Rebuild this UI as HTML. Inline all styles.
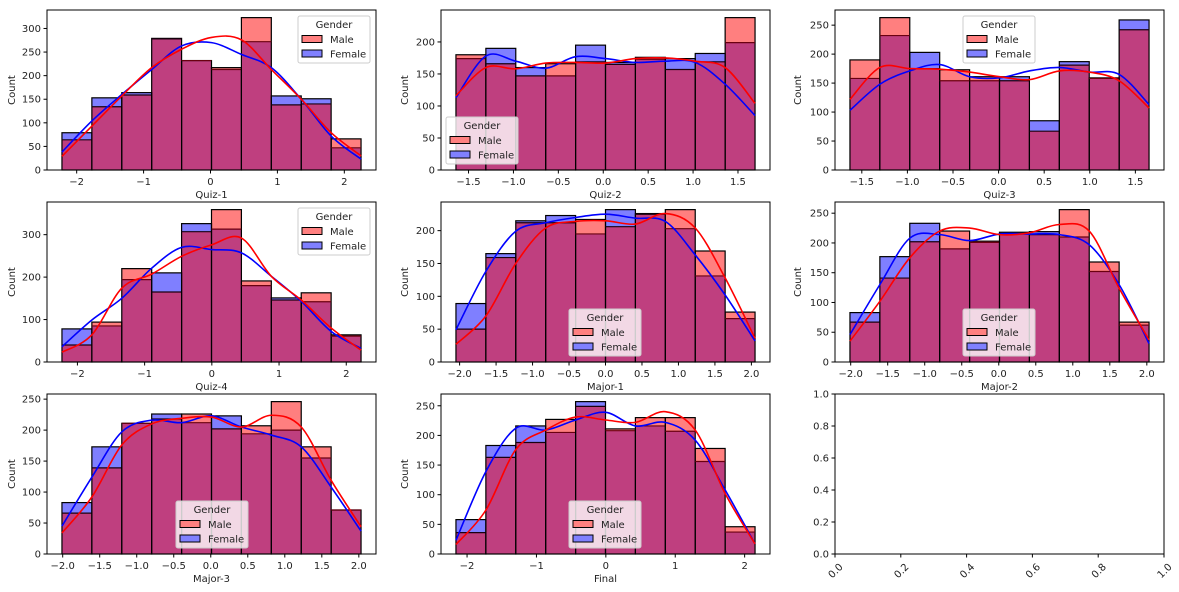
<!DOCTYPE html>
<html><head><meta charset="utf-8">
<style>
html,body{margin:0;padding:0;background:#fff;}
svg{display:block;font-family:"DejaVu Sans","Liberation Sans",sans-serif;}
</style></head>
<body>
<svg id="fig" width="1179" height="592" viewBox="0 0 1179 592" xmlns="http://www.w3.org/2000/svg"></svg>
<script>
// ---- data (counts per bin, 10 bins) ----
const q1Male=[64,134,159,278,232,217,323,138,140,66];
const q1Female=[79,153,164,279,232,213,272,157,151,47];
const q1KdeMale=[29,93,157,217,256,281,276,213,150,79,30];
const q1KdeFemale=[38,104,160,213,263,270,245,217,150,72,23];

const q2Male=[180,166,147,166,169,165,176,157,169,238];
const q2Female=[174,190,160,147,195,168,173,174,182,199];
const q2KdeMale=[116,160,158,167,168,167,174,175,170,160,104];
const q2KdeFemale=[113,178,170,159,177,174,168,170,168,134,85];

const q3Male=[190,263,175,173,161,154,67,181,159,242];
const q3Female=[158,232,203,154,154,161,85,187,158,259];
const q3KdeMale=[122,177,175,174,169,161,156,171,169,154,107];
const q3KdeFemale=[103,148,171,182,161,159,171,177,169,165,113];

const q4Male=[40,94,220,165,307,359,191,146,163,64];
const q4Female=[78,85,194,210,326,313,180,151,142,61];
const q4KdeMale=[23,64,174,207,249,276,292,202,146,80,28];
const q4KdeFemale=[36,99,150,221,270,265,257,202,143,72,32];

const m1Male=[50,159,212,212,217,206,225,232,169,76];
const m1Female=[89,165,215,223,195,232,226,203,131,66];
const m1KdeMale=[27,70,150,204,214,215,210,226,204,128,36];
const m1KdeFemale=[49,138,199,212,220,225,219,214,163,102,32];

const m2Male=[67,141,202,220,203,216,214,256,168,67];
const m2Female=[83,177,233,190,201,218,219,210,152,62];
const m2KdeMale=[35,102,175,220,225,214,217,231,220,124,37];
const m2KdeFemale=[46,130,208,214,204,215,215,214,197,130,31];

const m3Male=[66,139,211,218,226,202,207,246,173,71];
const m3Female=[83,173,211,226,212,223,194,200,155,71];
const m3KdeMale=[34,92,176,210,219,221,205,224,205,119,44];
const m3KdeFemale=[45,124,197,216,212,223,205,192,173,108,37];

const finMale=[36,163,188,227,249,211,230,230,178,46];
const finFemale=[58,183,216,205,257,208,216,207,156,37];
const finKdeMale=[16,74,176,209,231,226,222,240,209,102,17];
const finKdeFemale=[23,139,212,209,226,239,216,222,192,108,17];

// data range (bin edges)
const q1Range=[-2.22,2.25], q2Range=[-1.64,1.69], q3Range=[-1.63,1.65], q4Range=[-2.23,2.22];
const m1Range=[-2.05,2.05], m2Range=[-2.01,2.03], m3Range=[-2.01,2.03], finRange=[-2.16,2.15];

// tick values & labels
const intTicks=[-2,-1,0,1,2];
const intTickLabels=["\u22122","\u22121","0","1","2"];
const halfTicks=[-1.5,-1.0,-0.5,0,0.5,1.0,1.5];
const halfTickLabels=["\u22121.5","\u22121.0","\u22120.5","0.0","0.5","1.0","1.5"];
const majTicks=[-2,-1.5,-1,-0.5,0,0.5,1,1.5,2];
const majTickLabels=["\u22122.0","\u22121.5","\u22121.0","\u22120.5","0.0","0.5","1.0","1.5","2.0"];
const emptyTicks=[0,0.2,0.4,0.6,0.8,1.0];
const emptyTickLabels=["0.0","0.2","0.4","0.6","0.8","1.0"];

const NS="http://www.w3.org/2000/svg";
const svg=document.getElementById('fig');
function mk(tag,attrs,parent){const e=document.createElementNS(NS,tag);for(const k in attrs)e.setAttribute(k,attrs[k]);(parent||svg).appendChild(e);return e;}

const colX=[47,441,835], rowY=[10,202,394], W=329, H=160;

const panels=[
 {id:'quiz-1',label:'Quiz-1',col:0,row:0,male:q1Male,female:q1Female,km:q1KdeMale,kf:q1KdeFemale,range:q1Range,ticks:intTicks,tl:intTickLabels,ystep:50,leg:[298,16]},
 {id:'quiz-2',label:'Quiz-2',col:1,row:0,male:q2Male,female:q2Female,km:q2KdeMale,kf:q2KdeFemale,range:q2Range,ticks:halfTicks,tl:halfTickLabels,ystep:50,leg:[446,117]},
 {id:'quiz-3',label:'Quiz-3',col:2,row:0,male:q3Male,female:q3Female,km:q3KdeMale,kf:q3KdeFemale,range:q3Range,ticks:halfTicks,tl:halfTickLabels,ystep:50,leg:[963,16]},
 {id:'quiz-4',label:'Quiz-4',col:0,row:1,male:q4Male,female:q4Female,km:q4KdeMale,kf:q4KdeFemale,range:q4Range,ticks:intTicks,tl:intTickLabels,ystep:100,leg:[298,208]},
 {id:'major-1',label:'Major-1',col:1,row:1,male:m1Male,female:m1Female,km:m1KdeMale,kf:m1KdeFemale,range:m1Range,ticks:majTicks,tl:majTickLabels,ystep:50,leg:[569,309]},
 {id:'major-2',label:'Major-2',col:2,row:1,male:m2Male,female:m2Female,km:m2KdeMale,kf:m2KdeFemale,range:m2Range,ticks:majTicks,tl:majTickLabels,ystep:50,leg:[963,309]},
 {id:'major-3',label:'Major-3',col:0,row:2,male:m3Male,female:m3Female,km:m3KdeMale,kf:m3KdeFemale,range:m3Range,ticks:majTicks,tl:majTickLabels,ystep:50,leg:[176,501]},
 {id:'final',label:'Final',col:1,row:2,male:finMale,female:finFemale,km:finKdeMale,kf:finKdeFemale,range:finRange,ticks:intTicks,tl:intTickLabels,ystep:50,leg:[569,501]}
];

function splinePath(pts){
  let d='M'+pts[0][0].toFixed(2)+','+pts[0][1].toFixed(2);
  for(let i=0;i<pts.length-1;i++){
    const p0=pts[i-1]||pts[i],p1=pts[i],p2=pts[i+1],p3=pts[i+2]||pts[i+1];
    const c1=[p1[0]+(p2[0]-p0[0])/6,p1[1]+(p2[1]-p0[1])/6];
    const c2=[p2[0]-(p3[0]-p1[0])/6,p2[1]-(p3[1]-p1[1])/6];
    d+=' C'+c1[0].toFixed(2)+','+c1[1].toFixed(2)+' '+c2[0].toFixed(2)+','+c2[1].toFixed(2)+' '+p2[0].toFixed(2)+','+p2[1].toFixed(2);
  }
  return d;
}

panels.forEach(p=>{
  const x0=colX[p.col], y0=rowY[p.row];
  const g=mk('g',{});
  
  
  const lo=p.range[0], hi=p.range[1], span=hi-lo;
  const xmin=lo-0.05*span, xmax=hi+0.05*span;
  const ymax=1.05*Math.max(...p.male,...p.female,...p.km,...p.kf);
  const sx=v=>x0+(v-xmin)/(xmax-xmin)*W;
  const sy=v=>y0+H-v/ymax*H;
  const bw=span/10;
  // fills
  const bars=mk('g',{},g);
  
  
  p.female.forEach((v,i)=>{
    const r=mk('rect',{x:sx(lo+i*bw),y:sy(v),width:sx(lo+(i+1)*bw)-sx(lo+i*bw),height:sy(0)-sy(v),fill:'#0000ff','fill-opacity':0.5},bars);
    
    
  });
  p.male.forEach((v,i)=>{
    const r=mk('rect',{x:sx(lo+i*bw),y:sy(v),width:sx(lo+(i+1)*bw)-sx(lo+i*bw),height:sy(0)-sy(v),fill:'#ff0000','fill-opacity':0.5},bars);
    
    
  });
  // edges
  p.male.forEach((m,i)=>{
    const f=p.female[i], tall=Math.max(m,f), short=Math.min(m,f);
    const xa=sx(lo+i*bw), xb=sx(lo+(i+1)*bw);
    mk('rect',{x:xa,y:sy(tall),width:xb-xa,height:sy(0)-sy(tall),fill:'none',stroke:'#000','stroke-width':1.2},bars);
    mk('line',{x1:xa,x2:xb,y1:sy(short),y2:sy(short),stroke:m<f?'#1a0010':'#6a0010','stroke-width':1.2},bars);
  });
  // kde
  const ptsF=p.kf.map((v,i)=>[sx(lo+i*bw),sy(v)]);
  const ptsM=p.km.map((v,i)=>[sx(lo+i*bw),sy(v)]);
  const lf=mk('path',{d:splinePath(ptsF),fill:'none',stroke:'#0000ff','stroke-width':1.6},g);
  
  
  const lm=mk('path',{d:splinePath(ptsM),fill:'none',stroke:'#ff0000','stroke-width':1.6},g);
  
  
  // frame
  mk('rect',{x:x0,y:y0,width:W,height:H,fill:'none',stroke:'#000','stroke-width':1},g);
  // x ticks
  const xa=mk('g',{},g);
  
  
  p.ticks.forEach((t,i)=>{
    const x=sx(t);
    mk('line',{x1:x,x2:x,y1:y0+H,y2:y0+H+3.5,stroke:'#000'},xa);
    const tx=mk('text',{x:x,y:y0+H+15,'font-size':10,'text-anchor':'middle',fill:'#222'},xa);
    tx.textContent=p.tl[i];
  });
  const xl=mk('text',{x:x0+W/2,y:y0+H+28,'font-size':10,'text-anchor':'middle',fill:'#222'},g);
  xl.textContent=p.label;
  
  
  // y ticks
  const ya=mk('g',{},g);
  
  
  for(let v=0;v<=ymax;v+=p.ystep){
    const y=sy(v);
    mk('line',{x1:x0-3.5,x2:x0,y1:y,y2:y,stroke:'#000'},ya);
    const tx=mk('text',{x:x0-6,y:y+3.5,'font-size':10,'text-anchor':'end',fill:'#222'},ya);
    tx.textContent=String(v);
  }
  const cx=p.col===0?12:(p.col===1?405:798);
  const yl=mk('text',{x:cx,y:y0+H/2,'font-size':10,'text-anchor':'middle',fill:'#222',transform:'rotate(-90 '+cx+' '+(y0+H/2)+')','dominant-baseline':'middle'},g);
  yl.textContent='Count';
  
  
  // legend
  const lx=p.leg[0], ly=p.leg[1];
  const lg=mk('g',{},g);
  
  
  mk('rect',{x:lx,y:ly,width:72,height:47,rx:2,fill:'#ffffff','fill-opacity':0.8,stroke:'#cccccc','stroke-width':1},lg);
  const tt=mk('text',{x:lx+36,y:ly+12,'font-size':10,'text-anchor':'middle',fill:'#222'},lg);
  tt.textContent='Gender';
  const e1=mk('g',{},lg);
  
  
  mk('rect',{x:lx+4,y:ly+19.5,width:20,height:7,fill:'#ff8080',stroke:'#000','stroke-width':1},e1);
  const t1=mk('text',{x:lx+32,y:ly+27,'font-size':10,fill:'#222'},e1);
  t1.textContent='Male';
  const e2=mk('g',{},lg);
  
  
  mk('rect',{x:lx+4,y:ly+34,width:20,height:7,fill:'#8080ff',stroke:'#000','stroke-width':1},e2);
  const t2=mk('text',{x:lx+32,y:ly+41.5,'font-size':10,fill:'#222'},e2);
  t2.textContent='Female';
});

// empty axes
(function(){
  const x0=colX[2], y0=rowY[2];
  const g=mk('g',{});
  
  
  mk('rect',{x:x0,y:y0,width:W,height:H,fill:'none',stroke:'#000','stroke-width':1},g);
  emptyTicks.forEach((t,i)=>{
    const y=y0+H-t*H;
    mk('line',{x1:x0-3.5,x2:x0,y1:y,y2:y,stroke:'#000'},g);
    const ty=mk('text',{x:x0-6,y:y+3.5,'font-size':10,'text-anchor':'end',fill:'#222'},g);
    ty.textContent=emptyTickLabels[i];
    const x=x0+t*W;
    mk('line',{x1:x,x2:x,y1:y0+H,y2:y0+H+3.5,stroke:'#000'},g);
    const ax=x+4, ay=y0+H+9;
    const tx=mk('text',{x:ax,y:ay,'font-size':10,'text-anchor':'end',fill:'#222','dominant-baseline':'hanging',transform:'rotate(-45 '+ax+' '+ay+')'},g);
    tx.textContent=emptyTickLabels[i];
  });
})();
</script>
</body></html>
